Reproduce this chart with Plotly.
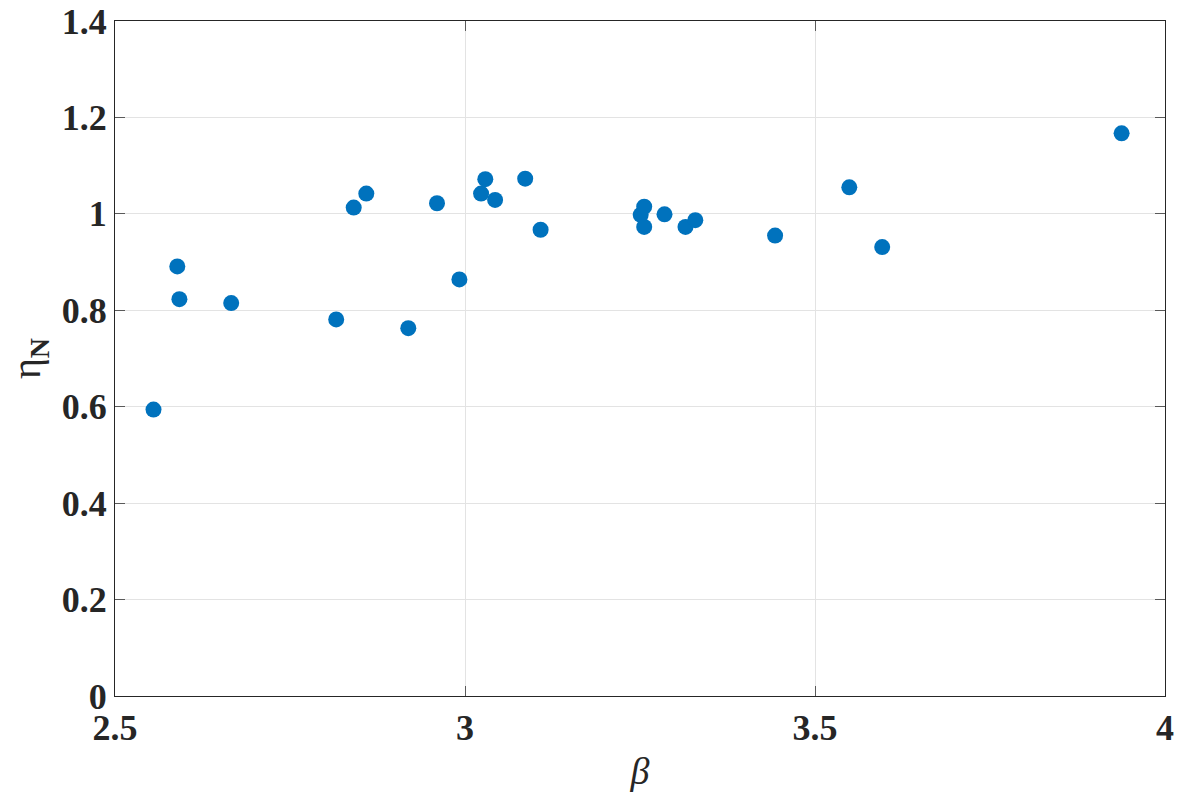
import plotly.graph_objects as go

# Measured points: beta vs normalised efficiency eta_N
beta = [2.555, 2.589, 2.592, 2.666, 2.816, 2.841, 2.859, 2.919, 2.960, 2.992,
        3.023, 3.029, 3.043, 3.086, 3.108, 3.251, 3.256, 3.256, 3.285, 3.315,
        3.329, 3.443, 3.549, 3.596, 3.938]
eta_n = [0.594, 0.891, 0.823, 0.815, 0.781, 1.013, 1.042, 0.763, 1.022, 0.864,
         1.042, 1.072, 1.029, 1.073, 0.967, 0.998, 1.015, 0.973, 0.999, 0.973,
         0.987, 0.955, 1.055, 0.931, 1.167]

x_ticks = [2.5, 3, 3.5, 4]
x_tick_text = ["2.5", "3", "3.5", "4"]
y_ticks = [0, 0.2, 0.4, 0.6, 0.8, 1.0, 1.2, 1.4]
y_tick_text = ["0", "0.2", "0.4", "0.6", "0.8", "1", "1.2", "1.4"]

axis_color = "#262626"
grid_color = "#e3e3e3"
tick_font = dict(family="Liberation Serif", size=36, color=axis_color)

fig = go.Figure()
fig.add_trace(go.Scatter(
    x=beta, y=eta_n, mode="markers",
    marker=dict(size=16, color="#0072BD", line=dict(width=0)),
    showlegend=False,
))

common = dict(
    showline=True, linecolor=axis_color, linewidth=1.2, mirror="allticks",
    ticks="inside", ticklen=10, tickwidth=1.2, tickcolor="#5a5a5a",
    showgrid=True, gridcolor=grid_color, gridwidth=1, zeroline=False,
    tickfont=tick_font, automargin=False,
)

fig.update_xaxes(
    range=[2.5, 4], tickvals=x_ticks, ticktext=["<b>%s</b>" % t for t in x_tick_text],
    title=dict(text="<i>β</i>", font=dict(family="Liberation Serif", size=38, color=axis_color),
               standoff=10),
    **common,
)
fig.update_yaxes(
    range=[0, 1.4], tickvals=y_ticks, ticktext=["<b>%s</b>" % t for t in y_tick_text],
    title=dict(text="η<sub><b>N</b></sub>", font=dict(family="Liberation Serif", size=40, color=axis_color),
               standoff=8),
    **common,
)

fig.update_layout(
    width=1181, height=799,
    margin=dict(l=114.5, r=15.5, t=20.5, b=102.7),
    plot_bgcolor="white", paper_bgcolor="white",
)

fig.write_html("out.html")
